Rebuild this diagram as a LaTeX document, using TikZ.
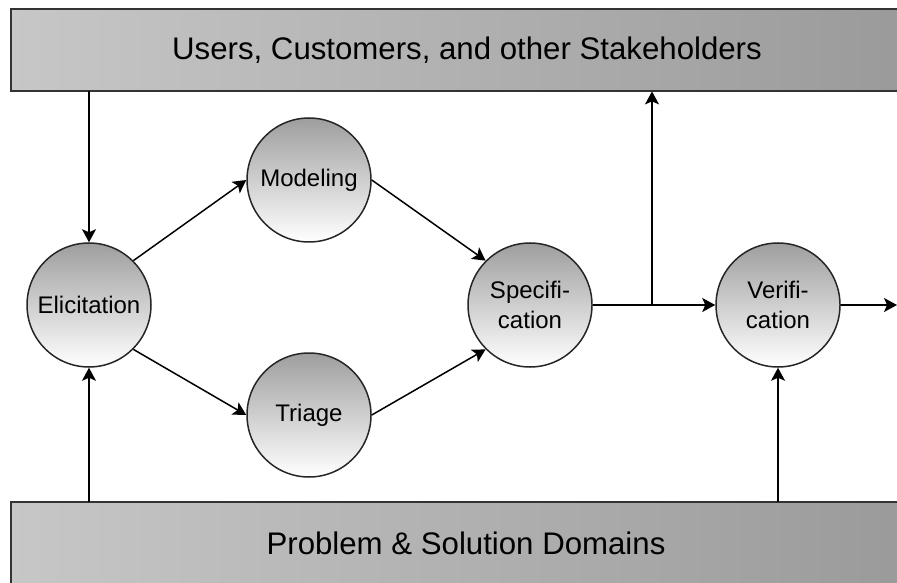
\documentclass[tikz,border=0pt]{standalone}
\usepackage{fontspec}
\setmainfont{Liberation Sans}
\usetikzlibrary{arrows.meta, positioning, calc}

\begin{document}
\begin{tikzpicture}[x=0.5pt, y=-0.5pt,
	phase/.style = {
		circle, draw=black!85, line width=0.75pt,
		minimum size=62pt, inner sep=0pt,
		top color=black!38, bottom color=white,
		align=center, font=\fontsize{12}{15}\selectfont
	},
	bar/.style = {
		draw=black!80, line width=1pt,
		left color=black!22, right color=black!40
	},
	bartext/.style = {
		minimum height=41pt, inner sep=0pt,
		font=\fontsize{15.6}{18}\selectfont
	},
	flow/.style = {
		line width=0.75pt,
		-{Stealth[length=6.5pt, width=7pt, inset=1.5pt]}
	}]
	\useasboundingbox (0,0) rectangle (897,582);
	% stakeholder and domain bars
	\draw [bar] (11,9) rectangle (930,91);
	\draw [bar] (11,502) rectangle (930,595);
	\node (users) [bartext] at (467,50) {Users, Customers, and other Stakeholders};
	\node (domains) [bartext] at (466,543) {Problem \& Solution Domains};
	% process steps
	\node (elicit) [phase] at (89,305) {Elicitation};
	\node (model) [phase] at (309,180) {Modeling};
	\node (triage) [phase] at (309,415) {Triage};
	\node (spec) [phase] at (530,305) {Specifi-\\cation};
	\node (verif) [phase] at (778,305) {Verifi-\\cation};
	\coordinate (split) at (652,305);
	\coordinate (out) at (897,305);
	\path [flow]
	(elicit |- users.south) edge (elicit)
	(elicit |- domains.north) edge (elicit)
	(elicit.45) edge (model.west)
	(elicit.-45) edge (triage.west)
	(model.east) edge (spec.135)
	(triage.east) edge (spec.-135)
	(verif |- domains.north) edge (verif)
	(verif) edge (out);
	\draw [line width=0.75pt] (spec) -- (split);
	\path [flow]
	(split) edge (verif)
	(split) edge (split |- users.south);
\end{tikzpicture}
\end{document}
